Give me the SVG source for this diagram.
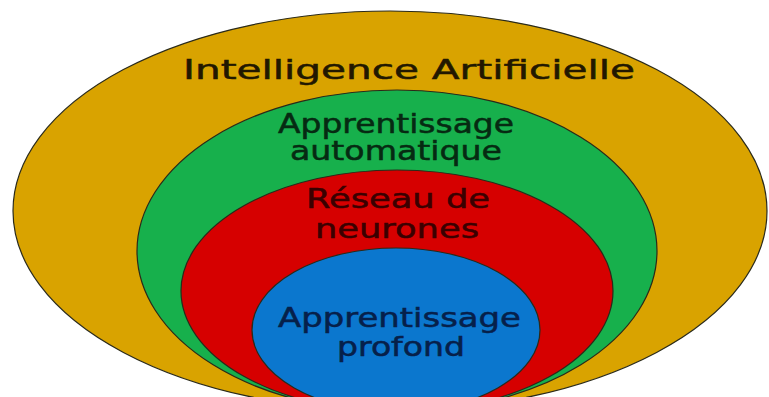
<svg xmlns="http://www.w3.org/2000/svg" width="769" height="397" viewBox="0 0 769 397">
  <style>
    .ring { stroke: #2a2a1a; stroke-width: 1.2; }
    .lbl { font-family: "DejaVu Sans", "Liberation Sans", sans-serif; font-size: 26px; stroke-width: 0.5px; }
    .t-ia { fill: #221800; stroke: #221800; }
    .t-ml { fill: #062a12; stroke: #062a12; }
    .t-nn { fill: #3a0000; stroke: #3a0000; }
    .t-dl { fill: #06204a; stroke: #06204a; }
  </style>
  <rect width="769" height="397" fill="#ffffff"/>
  <g id="ia">
    <ellipse class="ring" cx="390" cy="211" rx="377" ry="200" fill="#D9A300"/>
    <text class="lbl t-ia" x="183" y="79" font-size="31" textLength="452" lengthAdjust="spacingAndGlyphs">Intelligence Artificielle</text>
  </g>
  <g id="ml">
    <ellipse class="ring" cx="397" cy="251" rx="260" ry="161" fill="#17B04C"/>
    <text class="lbl t-ml" x="278" y="133" textLength="236" lengthAdjust="spacingAndGlyphs">Apprentissage</text>
    <text class="lbl t-ml" x="290" y="160" textLength="212" lengthAdjust="spacingAndGlyphs">automatique</text>
  </g>
  <g id="nn">
    <ellipse class="ring" cx="397" cy="291" rx="216" ry="121" fill="#D60000"/>
    <text class="lbl t-nn" x="306" y="208" textLength="184" lengthAdjust="spacingAndGlyphs">Réseau de</text>
    <text class="lbl t-nn" x="315" y="238" textLength="164" lengthAdjust="spacingAndGlyphs">neurones</text>
  </g>
  <g id="dl">
    <ellipse class="ring" cx="396" cy="330" rx="144" ry="82" fill="#0B77CE"/>
    <text class="lbl t-dl" x="278" y="327" textLength="243" lengthAdjust="spacingAndGlyphs">Apprentissage</text>
    <text class="lbl t-dl" x="337" y="356" textLength="128" lengthAdjust="spacingAndGlyphs">profond</text>
  </g>
</svg>
